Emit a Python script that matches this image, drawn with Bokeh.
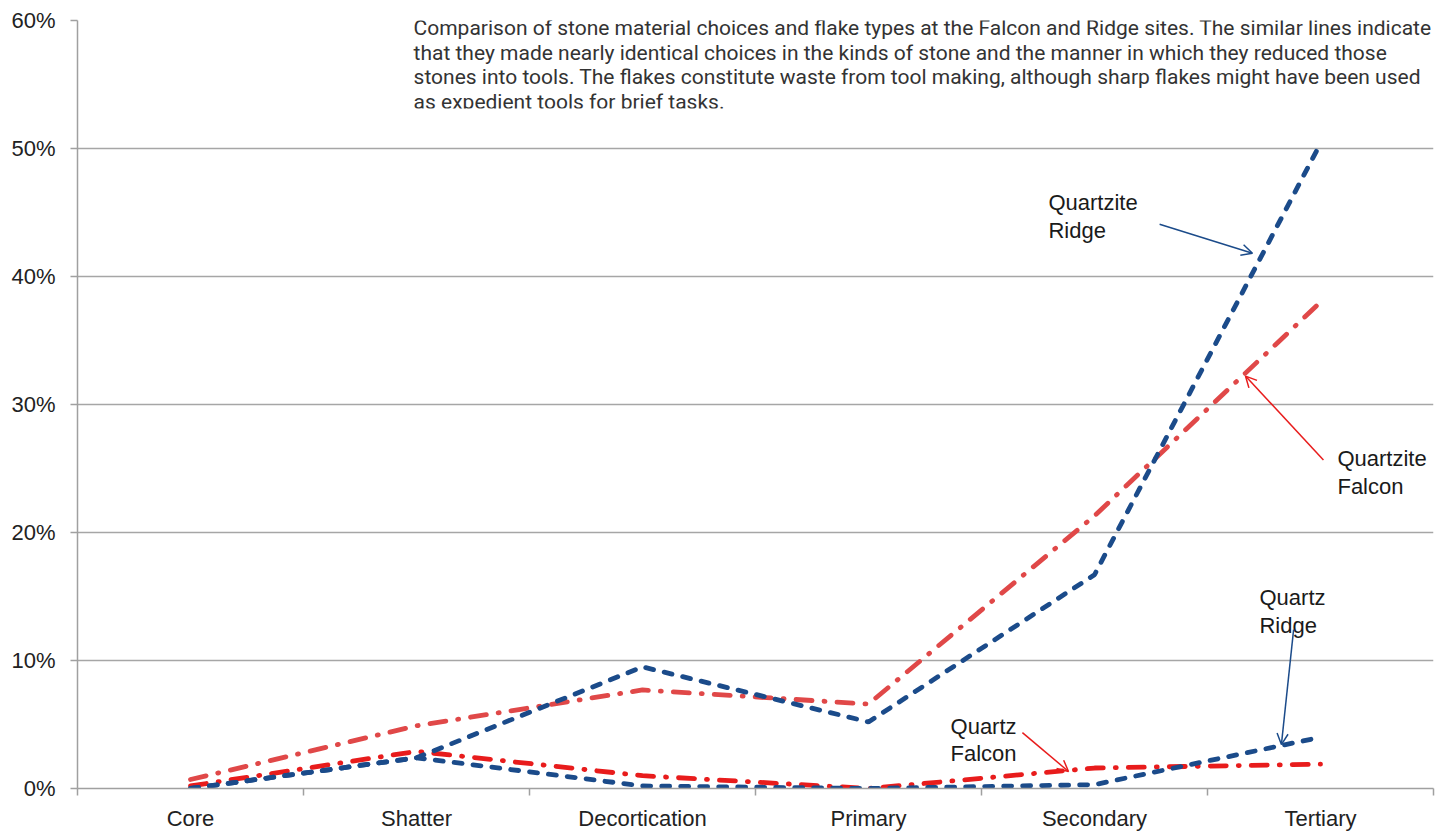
from bokeh.plotting import figure
from bokeh.models import (FixedTicker, PrintfTickFormatter, Range1d, Arrow, OpenHead,
                          Label, BoxAnnotation, ColumnDataSource)
from bokeh.core.properties import value
from bokeh.embed import file_html
from bokeh.resources import INLINE

# ---- data ----
categories = ["Core", "Shatter", "Decortication", "Primary", "Secondary", "Tertiary"]
quartzite_ridge = [0.0, 2.4, 9.5, 5.2, 16.7, 50.4]
quartzite_falcon = [0.7, 4.9, 7.7, 6.6, 21.3, 38.0]
quartz_ridge = [0.0, 2.4, 0.2, 0.0, 0.3, 4.0]
quartz_falcon = [0.2, 2.9, 1.0, 0.0, 1.6, 1.9]
y_ticks = [0, 10, 20, 30, 40, 50, 60]

caption_lines = [
    "Comparison of stone material choices and flake types at the Falcon and Ridge sites. The similar lines indicate",
    "that they made nearly identical choices in the kinds of stone and the manner in which they reduced those",
    "stones into tools. The flakes constitute waste from tool making, although sharp flakes might have been used",
    "as expedient tools for brief tasks.",
]

# callout labels (text, x, y baseline in data units)
callout_text = ["Quartzite", "Ridge", "Quartzite", "Falcon", "Quartz", "Ridge", "Quartz", "Falcon"]
callout_x = [4.796, 4.796, 6.075, 6.075, 5.730, 5.730, 4.363, 4.363]
callout_y = [45.80, 43.61, 25.75, 23.56, 14.90, 12.72, 4.84, 2.73]

# arrows: (x_start, y_start, x_end, y_end, color)
BLUE = "#1b4b8a"
RED_LIGHT = "#e04848"
RED = "#e81c1c"
arrows = [
    (5.288, 44.08, 5.699, 41.82, BLUE),
    (6.013, 25.67, 5.668, 32.22, RED),
    (5.881, 12.41, 5.827, 3.43, BLUE),
    (4.681, 4.37, 4.885, 1.33, RED),
]

xs = list(range(1, len(categories) + 1))

p = figure(width=1445, height=833, output_backend="svg", toolbar_location=None,
           x_range=Range1d(0.5, 6.5), y_range=Range1d(0, 60),
           min_border_left=77, min_border_right=12, min_border_top=20, min_border_bottom=44)
p.outline_line_color = None
p.background_fill_color = "white"
p.border_fill_color = "white"

# grid
p.xgrid.grid_line_color = None
p.ygrid.grid_line_color = "#a6a6a6"
p.ygrid.grid_line_width = 1.5
p.ygrid.ticker = FixedTicker(ticks=y_ticks)

# y axis
p.yaxis.ticker = FixedTicker(ticks=y_ticks)
p.yaxis.formatter = PrintfTickFormatter(format="%d%%")
p.yaxis.axis_line_color = "#a0a0a0"
p.yaxis.axis_line_width = 1.5
p.yaxis.major_tick_line_color = "#a0a0a0"
p.yaxis.major_tick_line_width = 1.5
p.yaxis.major_tick_out = 7
p.yaxis.major_tick_in = 0
p.yaxis.minor_tick_line_color = None
p.yaxis.major_label_standoff = 15
p.yaxis.major_label_text_font = "Liberation Sans"
p.yaxis.major_label_text_font_size = "22px"
p.yaxis.major_label_text_color = "#222222"

# x axis
p.xaxis.ticker = FixedTicker(ticks=xs, minor_ticks=[x - 0.5 for x in xs] + [xs[-1] + 0.5])
p.xaxis.major_label_overrides = {x: c for x, c in zip(xs, categories)}
p.xaxis.axis_line_color = "#a0a0a0"
p.xaxis.axis_line_width = 1.5
p.xaxis.major_tick_line_color = None
p.xaxis.major_tick_out = 0
p.xaxis.major_tick_in = 0
p.xaxis.minor_tick_line_color = "#a0a0a0"
p.xaxis.minor_tick_line_width = 1.5
p.xaxis.minor_tick_out = 7
p.xaxis.minor_tick_in = 0
p.xaxis.major_label_standoff = 10
p.xaxis.major_label_text_font = "Liberation Sans"
p.xaxis.major_label_text_font_size = "22px"
p.xaxis.major_label_text_color = "#222222"

# lines
p.line(xs, quartzite_falcon, line_color=RED_LIGHT, line_width=4.8, line_dash="16 12 1 12", line_cap="round")
p.line(xs, quartz_falcon, line_color=RED, line_width=4.8, line_dash="16 12 1 12", line_cap="round")
p.line(xs, quartz_ridge, line_color=BLUE, line_width=4.8, line_dash="8 11", line_cap="round")
p.line(xs, quartzite_ridge, line_color=BLUE, line_width=4.8, line_dash="8 11", line_cap="round")

# callout labels
src = ColumnDataSource(dict(x=callout_x, y=callout_y, t=callout_text))
p.text(x="x", y="y", text="t", source=src, text_font=value("Liberation Sans"),
       text_font_size="22px", text_color="#1a1a1a", text_baseline="alphabetic", text_align="left")

for x0, y0, x1, y1, c in arrows:
    p.add_layout(Arrow(x_start=x0, y_start=y0, x_end=x1, y_end=y1, line_color=c, line_width=1.5,
                       end=OpenHead(size=11, line_color=c, line_width=1.5)))

# caption box
p.add_layout(BoxAnnotation(left=1.965, right=6.6, bottom=53.13, top=62,
                           fill_color="white", fill_alpha=1.0, line_color=None))
cap_base = [59.45, 57.50, 55.55, 53.60]
for line, yb in zip(caption_lines, cap_base):
    p.add_layout(Label(x=1.987, y=yb, text=line, text_font="Roboto", text_font_size="21px",
                       text_color="#333333", text_baseline="alphabetic"))
p.add_layout(BoxAnnotation(left=1.965, right=6.6, bottom=52.7, top=53.13,
                           fill_color="white", fill_alpha=1.0, line_color=None))

open("out.html", "w").write(file_html(p, INLINE))
